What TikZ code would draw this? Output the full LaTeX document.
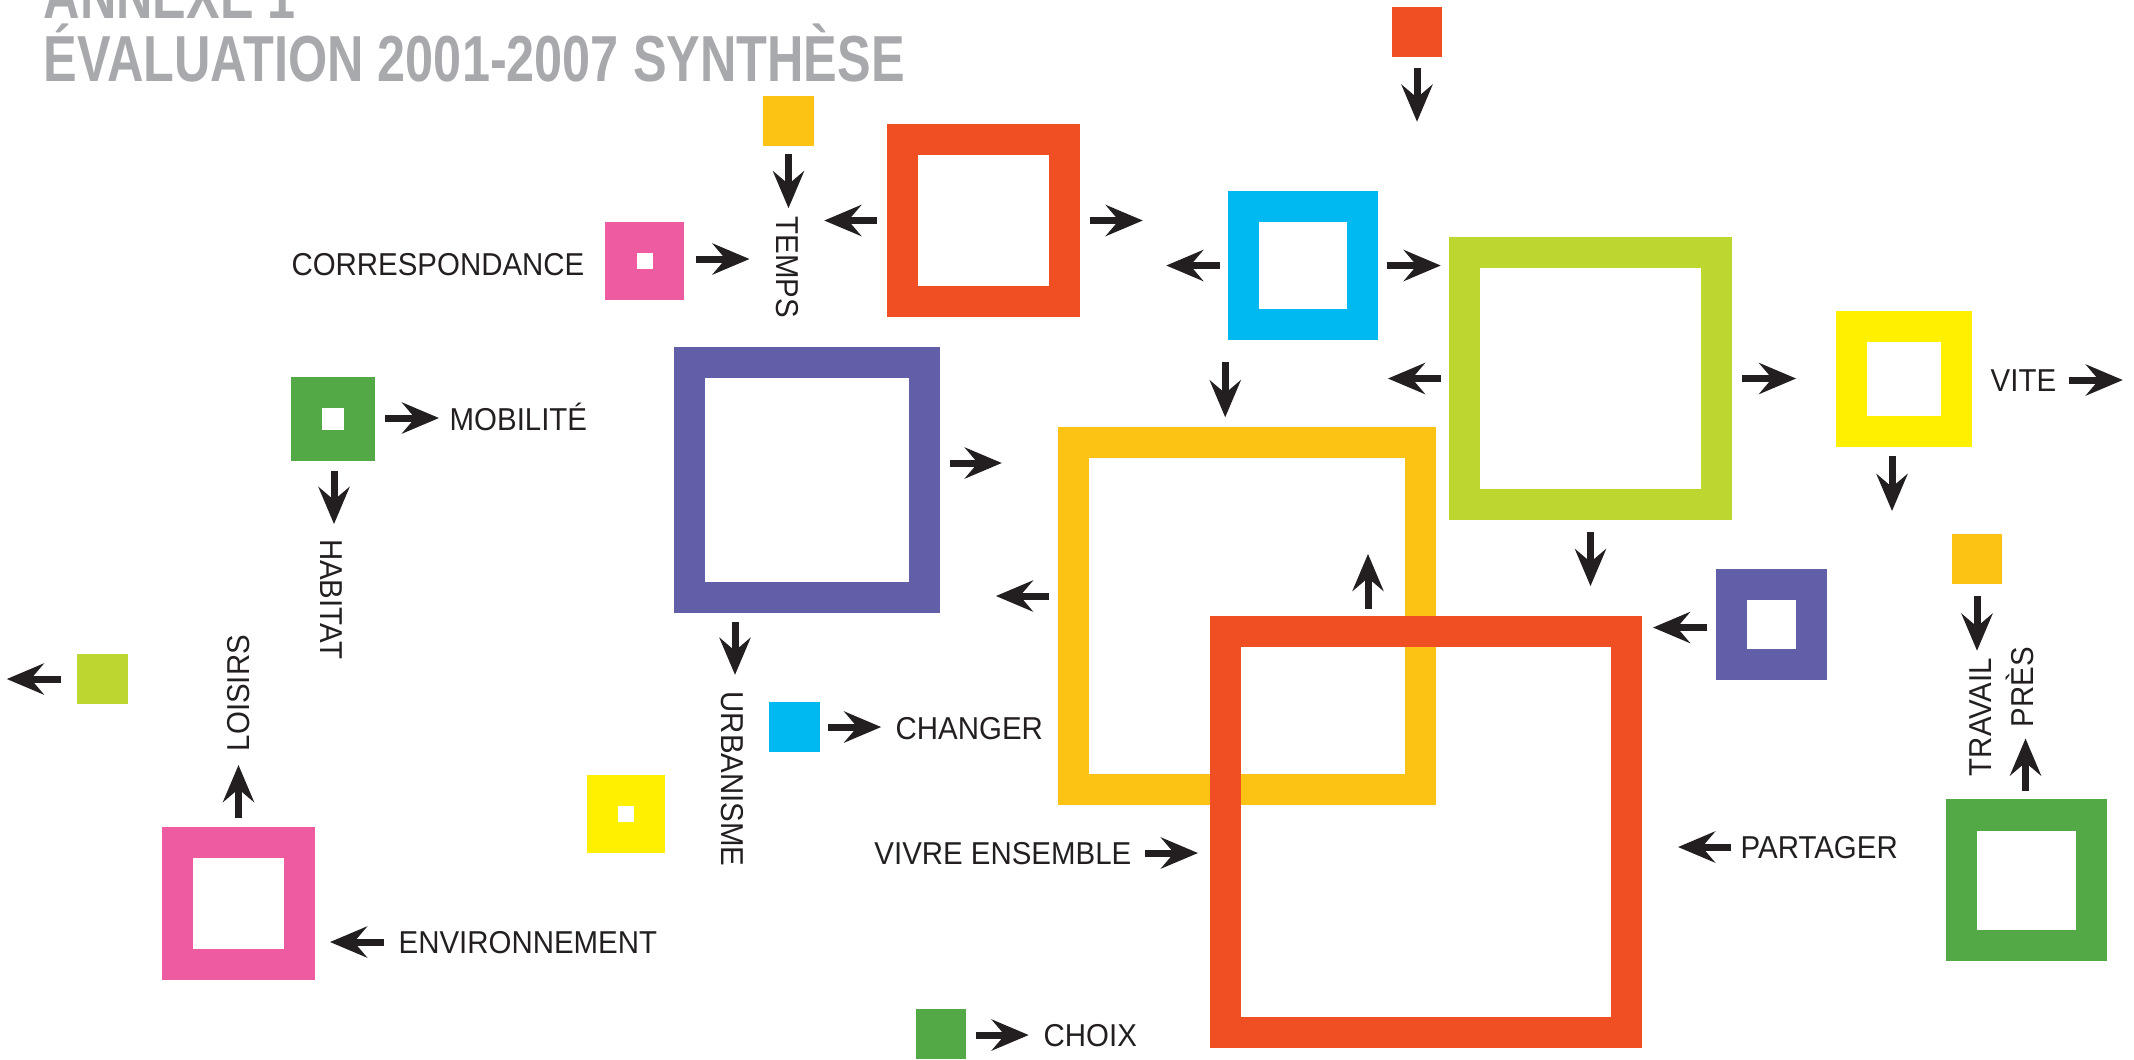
\documentclass[tikz,border=0pt]{standalone}
\usepackage{fontspec}
\setmainfont{Liberation Sans}
\newfontfamily\labelfont{Liberation Sans}[FakeStretch=0.93]
\newfontfamily\titlefont{Liberation Sans}[FakeStretch=0.775]
\usepackage{tikz}
\usetikzlibrary{arrows.meta,calc}
\definecolor{Ink}{HTML}{231F20}
\definecolor{Mist}{HTML}{A7A9AC}
\definecolor{Vermil}{HTML}{F04E23}
\definecolor{Sky}{HTML}{00B9F1}
\definecolor{Lime}{HTML}{BED630}
\definecolor{Lemon}{HTML}{FFF000}
\definecolor{Violet}{HTML}{625FA9}
\definecolor{Amber}{HTML}{FDC314}
\definecolor{Rose}{HTML}{EE5BA0}
\definecolor{Leaf}{HTML}{53A946}

\begin{document}
\begin{tikzpicture}[
  x=0.01cm,
  y=-0.01cm,
  frame/.style={
    draw=#1,
    line width=0.31cm,
    inner sep=0pt
  },
  block/.style={
    fill=#1,
    minimum size=0.5cm,
    inner sep=0pt
  },
  lbl/.style={
    font=\labelfont\fontsize{9pt}{10pt}\selectfont,
    text=Ink,
    inner sep=0pt,
    text height=0.23cm,
    text depth=0pt
  },
  arr/.style={
    -{Stealth[length=0.37cm,width=0.31cm,inset=0.13cm]},
    Ink,
    line width=0.07cm
  }
]

\useasboundingbox (0,0) rectangle (2134,1059);

% title
\node[
  anchor=base west,
  inner sep=0pt,
  text=Mist,
  font=\titlefont\bfseries\fontsize{18.5pt}{20pt}\selectfont
] (annexe) at (43,18) {ANNEXE 1};

\node[
  anchor=base west,
  inner sep=0pt,
  text=Mist,
  font=\titlefont\bfseries\fontsize{18.5pt}{20pt}\selectfont
] (titre) at (43,81) {ÉVALUATION 2001-2007 SYNTHÈSE};

% open squares (au before r2)
\foreach \n/\c/\x/\y/\s in {
  o1/Vermil/983.5/220.5/1.615,
  c1/Sky/1303/265.5/1.185,
  g1/Lime/1590.5/378.5/2.52,
  y1/Lemon/1904/379/1.05,
  p1/Violet/807/480/2.345,
  au/Amber/1247/616/3.47,
  r2/Vermil/1426/832/4.01,
  p2/Violet/1771.5/624.5/0.80,
  g2/Leaf/2026.5/880/1.30,
  pk1/Rose/238.5/903.5/1.22,
  pk2/Rose/644.5/261/0.47,
  g3/Leaf/333/419/0.53,
  y2/Lemon/626/814/0.47}{
  \node[frame=\c, minimum size=\s cm] (\n) at (\x,\y) {};
}

% full squares
\foreach \n/\c/\x/\y in {
  au3/Amber/788.5/120.5,
  r3/Vermil/1417/32,
  l2/Lime/102.5/679,
  c2/Sky/794.5/727,
  au2/Amber/1977/559,
  g4/Leaf/941/1034}{
  \node[block=\c] (\n) at (\x,\y) {};
}

% words
\node[lbl, rotate=-90] (temps) at (788,267.5) {TEMPS};
\node[lbl, anchor=east] (corresp) at (585,263.5) {CORRESPONDANCE};
\node[lbl, anchor=west] (mobil) at (449,419) {MOBILITÉ};
\node[lbl, rotate=-90] (habitat) at (332,599) {HABITAT};
\node[lbl, rotate=90] (loisirs) at (238,693) {LOISIRS};
\node[lbl, anchor=west] (env) at (398,942) {ENVIRONNEMENT};
\node[lbl, rotate=-90] (urba) at (732.5,779) {URBANISME};
\node[lbl, anchor=west] (changer) at (895,727.5) {CHANGER};
\node[lbl, anchor=east] (vivre) at (1132,853) {VIVRE ENSEMBLE};
\node[lbl, anchor=west] (partager) at (1740,847) {PARTAGER};
\node[lbl, anchor=west] (choix) at (1043,1035) {CHOIX};
\node[lbl, anchor=west] (vite) at (1990,380) {VITE};
\node[lbl, rotate=90] (travail) at (1980,717) {TRAVAIL};
\node[lbl, rotate=90] (pres) at (2022,687) {PRÈS};

% arrows
\draw[arr] ($(au3.south)+(0,8)$) -- ++(0,54);
\draw[arr] ($(pk2.east)+(12,-2)$) -- ++(54,0);
\draw[arr] ($(o1.west)+(-10,0)$) -- ++(-53,0);
\draw[arr] ($(o1.east)+(10,0)$) -- ++(53,0);
\draw[arr] ($(r3.south)+(0,10)$) -- ++(0,54);
\draw[arr] ($(c1.west)+(-8,0)$) -- ++(-54,0);
\draw[arr] ($(c1.east)+(9,0)$) -- ++(54,0);
\draw[arr] ($(c1.south west)+(-3,22)$) -- ++(0,55);
\draw[arr] ($(g1.west)+(-8,0)$) -- ++(-53,0);
\draw[arr] ($(g1.east)+(10,0)$) -- ++(54,0);
\draw[arr] ($(vite.east)+(12,0)$) -- ++(54,0);
\draw[arr] ($(y1.south)+(-12,9)$) -- ++(0,55);
\draw[arr] ($(g1.south)+(0,12)$) -- ++(0,54);
\draw[arr] ($(p1.east)+(10,-17)$) -- ++(52,0);
\draw[arr] ($(au.west)+(-9,-20)$) -- ++(-53,0);
\draw[arr] ($(r2.north)+(-58,-7)$) -- ++(0,-55);
\draw[arr] ($(p2.west)+(-9,3)$) -- ++(-54,0);
\draw[arr] ($(p1.south)+(-72,9)$) -- ++(0,53);
\draw[arr] ($(g3.east)+(10,-1)$) -- ++(54,0);
\draw[arr] ($(g3.south)+(1,10)$) -- ++(0,53);
\draw[arr] ($(l2.west)+(-16,0)$) -- ++(-54,0);
\draw[arr] ($(pk1.north)+(0,-9)$) -- ++(0,-53);
\draw[arr] ($(env.west)+(-14,0)$) -- ++(-54,0);
\draw[arr] ($(c2.east)+(8,0)$) -- ++(53,0);
\draw[arr] ($(vivre.east)+(13,0)$) -- ++(53,0);
\draw[arr] ($(partager.west)+(-9,0)$) -- ++(-53,0);
\draw[arr] ($(g4.east)+(9,1)$) -- ++(53,0);
\draw[arr] ($(au2.south)+(0,11)$) -- ++(0,55);
\draw[arr] ($(g2.north)+(-1,-8)$) -- ++(0,-53);

\end{tikzpicture}
\end{document}
